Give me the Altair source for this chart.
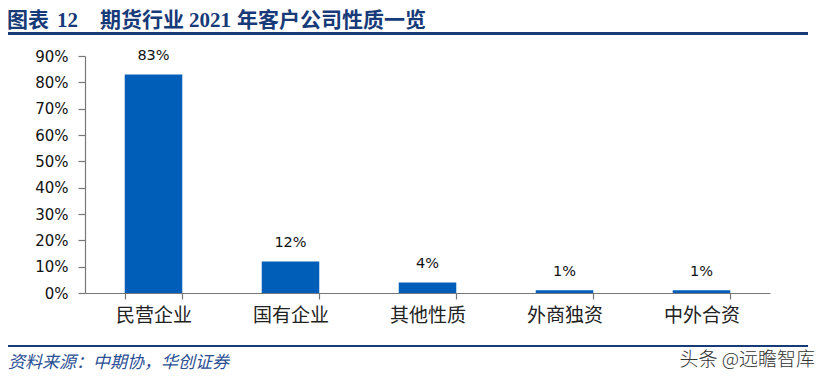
import altair as alt
import pandas as pd

categories = ["民营企业", "国有企业", "其他性质", "外商独资", "中外合资"]
values = [0.83, 0.12, 0.04, 0.01, 0.01]
labels = ["83%", "12%", "4%", "1%", "1%"]
y_ticks = [0, 0.1, 0.2, 0.3, 0.4, 0.5, 0.6, 0.7, 0.8, 0.9]

title_parts = ["图表", "12", "期货行业", "2021", "年客户公司性质一览"]
source_text = "资料来源：中期协，华创证券"
watermark_text = "头条 @远瞻智库"

df = pd.DataFrame({"cat": categories, "val": values, "lab": labels})

W, H = 685, 237
NAVY = "#173a78"
BAR = "#005eb8"

x_enc = alt.X("cat:N", sort=categories,
              scale=alt.Scale(paddingInner=0.58, paddingOuter=0.29),
              axis=alt.Axis(title=None, labelAngle=0, labelFont="Noto Sans CJK SC",
                            labelFontSize=19, labelColor="#222", labelPadding=7,
                            tickBand="extent", tickSize=6, tickColor="#777",
                            domainColor="#777", domainWidth=1.2, tickWidth=1.2))
y_enc = alt.Y("val:Q", scale=alt.Scale(domain=[0, 0.9], nice=False),
              axis=alt.Axis(title=None, format=".0%", values=y_ticks, labelOverlap=False,
                            grid=False, labelFont="DejaVu Sans", labelFontSize=15,
                            labelColor="#111", tickSize=7, tickColor="#777", tickWidth=1.2,
                            domainColor="#777", domainWidth=1.2, labelPadding=10))

base = alt.Chart(df).encode(x=x_enc, y=y_enc)
bars = base.mark_bar(color=BAR)
texts = base.mark_text(dy=-18, baseline="middle", font="DejaVu Sans",
                       fontSize=14.5, color="#111").encode(text="lab:N")

TITLE_Y = -35.5
TITLE_FONT = "Liberation Serif, Noto Sans CJK SC"

def title_seg(txt, x, size):
    return alt.Chart(pd.DataFrame({"t": [txt]})).mark_text(
        align="left", baseline="middle", font=TITLE_FONT,
        fontWeight="bold", fontSize=size, color=NAVY).encode(
        x=alt.value(x), y=alt.value(TITLE_Y), text="t:N")

title_x = [-78, -28, 15, 104, 152]
title_size = [21, 21, 21, 21, 21]
titles = [title_seg(t, x, s) for t, x, s in zip(title_parts, title_x, title_size)]

top_line = alt.Chart(pd.DataFrame({"a": [0]})).mark_rule(
    color=NAVY, strokeWidth=3).encode(x=alt.value(-80), x2=alt.value(723), y=alt.value(-22.5))
bottom_line = alt.Chart(pd.DataFrame({"a": [0]})).mark_rule(
    color=NAVY, strokeWidth=2).encode(x=alt.value(-80), x2=alt.value(723), y=alt.value(290))

source = alt.Chart(pd.DataFrame({"t": [source_text]})).mark_text(
    align="left", baseline="middle", font="Noto Sans CJK SC", fontStyle="italic",
    fontSize=17, color="#2a4f94").encode(x=alt.value(-77), y=alt.value(307), text="t:N")

watermark = alt.Chart(pd.DataFrame({"t": [watermark_text]})).mark_text(
    align="right", baseline="middle", font="Noto Sans CJK SC", fontWeight=300,
    fontSize=19, color="#333").encode(x=alt.value(730), y=alt.value(304), text="t:N")

chart = alt.layer(bars, texts, *titles, top_line, bottom_line, source, watermark).properties(
    width=W, height=H,
    background="white",
    autosize=alt.AutoSizeParams(type="none"),
    padding={"left": 77, "top": 48, "right": 47, "bottom": 80},
).configure_view(strokeWidth=0, stroke="transparent")

chart.save("out.html", embed_options={"renderer": "svg", "actions": False})
